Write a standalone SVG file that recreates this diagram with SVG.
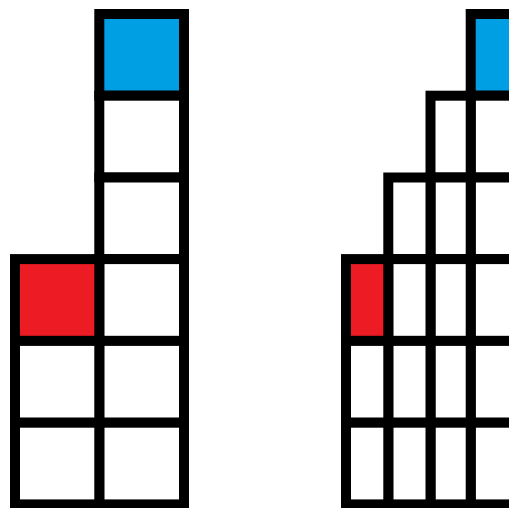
<svg xmlns="http://www.w3.org/2000/svg" width="509" height="508" viewBox="0 0 509 508">
<style>
.c{fill:#ffffff;stroke:#000000;stroke-width:10}
.b{fill:#009FE3}
.r{fill:#ED1C24}
</style>
<rect width="509" height="508" fill="#ffffff"/>
<g id="left">
<rect class="c b" x="99.3" y="14" width="84.7" height="81.7"/>
<rect class="c" x="99.3" y="95.7" width="84.7" height="81.8"/>
<rect class="c" x="99.3" y="177.5" width="84.7" height="81.6"/>
<rect class="c" x="99.3" y="259.1" width="84.7" height="81.8"/>
<rect class="c" x="99.3" y="340.9" width="84.7" height="81.8"/>
<rect class="c" x="99.3" y="422.7" width="84.7" height="81.7"/>
<rect class="c r" x="15" y="259.1" width="84.3" height="81.8"/>
<rect class="c" x="15" y="340.9" width="84.3" height="81.8"/>
<rect class="c" x="15" y="422.7" width="84.3" height="81.7"/>
</g>
<g id="right">
<rect class="c b" x="470.7" y="14" width="84.5" height="81.7"/>
<rect class="c" x="470.7" y="95.7" width="84.5" height="81.8"/>
<rect class="c" x="470.7" y="177.5" width="84.5" height="81.6"/>
<rect class="c" x="470.7" y="259.1" width="84.5" height="81.8"/>
<rect class="c" x="470.7" y="340.9" width="84.5" height="81.8"/>
<rect class="c" x="470.7" y="422.7" width="84.5" height="81.7"/>
<rect class="c" x="430.5" y="95.7" width="40.2" height="81.8"/>
<rect class="c" x="430.5" y="177.5" width="40.2" height="81.6"/>
<rect class="c" x="430.5" y="259.1" width="40.2" height="81.8"/>
<rect class="c" x="430.5" y="340.9" width="40.2" height="81.8"/>
<rect class="c" x="430.5" y="422.7" width="40.2" height="81.7"/>
<rect class="c" x="388.3" y="177.5" width="42.2" height="81.6"/>
<rect class="c" x="388.3" y="259.1" width="42.2" height="81.8"/>
<rect class="c" x="388.3" y="340.9" width="42.2" height="81.8"/>
<rect class="c" x="388.3" y="422.7" width="42.2" height="81.7"/>
<rect class="c r" x="346" y="259.1" width="42.3" height="81.8"/>
<rect class="c" x="346" y="340.9" width="42.3" height="81.8"/>
<rect class="c" x="346" y="422.7" width="42.3" height="81.7"/>
</g>
</svg>
